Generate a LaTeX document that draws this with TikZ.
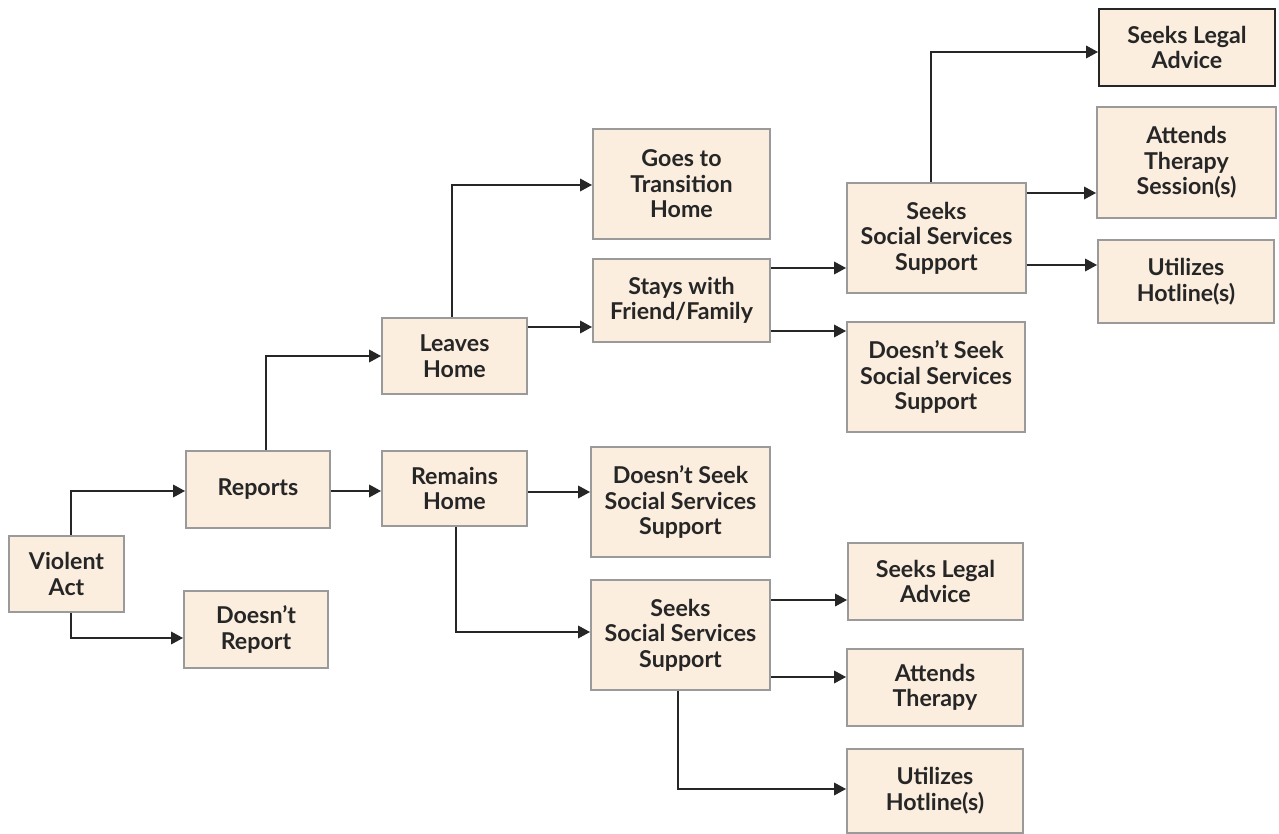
\documentclass[tikz,border=0pt]{standalone}
\usepackage{fontspec}
\setmainfont{Lato}
\usetikzlibrary{positioning,calc,arrows.meta}

\definecolor{boxfill}{HTML}{FCEEDF}
\definecolor{boxline}{HTML}{9A9A9A}
\definecolor{inkcol}{HTML}{262626}

\tikzset{
  box/.style={draw=boxline, fill=boxfill, line width=0.8pt, align=center,
    inner sep=0pt, text=inkcol, font=\bfseries\fontsize{11.6}{12.8}\selectfont},
  arr/.style={draw=inkcol, line width=1.45pt,
    -{Triangle[length=6pt,width=6pt]}}
}

\begin{document}
\begin{tikzpicture}[x=0.5pt, y=-0.5pt]
      \useasboundingbox (0,0) rectangle (1279,834);
      % first column
      \node[box, minimum width=57.5pt, minimum height=38pt] (violent) at (66.5,574) {Violent\\Act};
      \node[box, minimum width=72pt, minimum height=38.5pt] (reports) at (258,489.5) {Reports};
      \node[box, minimum width=72pt, minimum height=38.5pt] (noreport) at (256,629.5) {Doesn't\\Report};
      \node[box, minimum width=72.5pt, minimum height=38pt] (leaves) at (454.5,356) {Leaves\\Home};
      \node[box, minimum width=72.5pt, minimum height=37.5pt] (remains) at (454.5,488.5) {Remains\\Home};
      % leaves home
      \node[box, minimum width=88.5pt, minimum height=55pt] (transit) at (681.5,184) {Goes to\\Transition\\Home};
      \node[box, minimum width=88.5pt, minimum height=41.5pt] (stays) at (681.5,300.5) {Stays with\\Friend/Family};
      \node[box, minimum width=89.5pt, minimum height=55pt] (seeksA) at (936.5,238) {Seeks\\Social Services\\Support};
      \node[box, minimum width=89pt, minimum height=55pt] (noseekA) at (936,377) {Doesn't Seek\\Social Services\\Support};
      \node[box, draw=inkcol, minimum width=88pt, minimum height=38.5pt] (legalA) at (1187,47.5) {Seeks Legal\\Advice};
      \node[box, minimum width=89.5pt, minimum height=55.5pt] (therapyA) at (1186.5,162.5) {Attends\\Therapy\\Session(s)};
      \node[box, minimum width=88pt, minimum height=41.5pt] (hotlineA) at (1186,281.5) {Utilizes\\Hotline(s)};
      % remains home
      \node[box, minimum width=89.5pt, minimum height=55pt] (noseekB) at (680.5,502) {Doesn't Seek\\Social Services\\Support};
      \node[box, minimum width=89.5pt, minimum height=55pt] (seeksB) at (680.5,635) {Seeks\\Social Services\\Support};
      \node[box, minimum width=87.5pt, minimum height=38.5pt] (legalB) at (935.5,581.5) {Seeks Legal\\Advice};
      \node[box, minimum width=88pt, minimum height=38.5pt] (therapyB) at (935,687.5) {Attends\\Therapy};
      \node[box, minimum width=88pt, minimum height=42pt] (hotlineB) at (935,791) {Utilizes\\Hotline(s)};

      % connectors
      \draw[arr] ($(violent.north)+(4.5,0)$) |- ($(reports.west)+(0,1.5)$);
      \draw[arr] ($(violent.south)+(4.5,0)$) |- ($(noreport.west)+(0,8.5)$);
      \draw[arr] ($(reports.east)+(0,1.5)$) -- ($(remains.west)+(0,2.5)$);
      \draw[arr] ($(reports.north)+(8,0)$) |- (leaves.west);
      \draw[arr] ($(leaves.north)+(-2.5,0)$) |- ($(transit.west)+(0,1)$);
      \draw[arr] ($(leaves.east)+(0,-29)$) -- ($(stays.west)+(0,26.5)$);
      \draw[arr] ($(stays.east)+(0,-32.5)$) -- ($(seeksA.west)+(0,30)$);
      \draw[arr] ($(stays.east)+(0,30.5)$) -- ($(noseekA.west)+(0,-46)$);
      \draw[arr] ($(seeksA.north)+(-5.5,0)$) |- ($(legalA.west)+(0,4.5)$);
      \draw[arr] ($(seeksA.east)+(0,-45)$) -- ($(therapyA.west)+(0,30.5)$);
      \draw[arr] ($(seeksA.east)+(0,27)$) -- ($(hotlineA.west)+(0,-16.5)$);
      \draw[arr] ($(remains.east)+(0,3.5)$) -- ($(noseekB.west)+(0,-10)$);
      \draw[arr] ($(remains.south)+(1.5,0)$) |- ($(seeksB.west)+(0,-3)$);
      \draw[arr] ($(seeksB.east)+(0,-35)$) -- ($(legalB.west)+(0,18.5)$);
      \draw[arr] ($(seeksB.east)+(0,42)$) -- ($(therapyB.west)+(0,-10.5)$);
      \draw[arr] ($(seeksB.south)+(-2.5,0)$) |- ($(hotlineB.west)+(0,-2)$);
    \end{tikzpicture}
\end{document}
